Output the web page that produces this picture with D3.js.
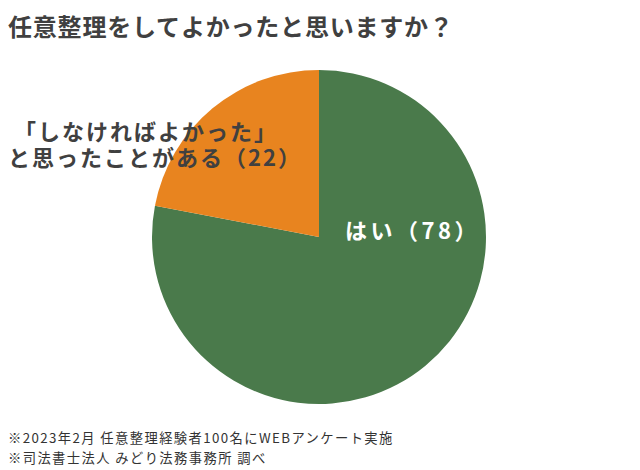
<!DOCTYPE html>
<html><head><meta charset="utf-8">
<script src="https://cdn.jsdelivr.net/npm/d3@7"></script>
<style>body{margin:0;background:#fff;}svg{display:block;font-family:"Noto Sans CJK JP","Noto Sans",sans-serif;}</style>
</head><body>
<script>
const categories = ["はい", "「しなければよかった」と思ったことがある"];
const values = [78, 22];
const colors = ["#4a7a4b", "#e8841f"];
const title = "任意整理をしてよかったと思いますか？";
const notes = ["※2023年2月 任意整理経験者100名にWEBアンケート実施", "※司法書士法人 みどり法務事務所 調べ"];

const W = 640, H = 470;
const svg = d3.select("body").append("svg").attr("width", W).attr("height", H);
const cx = 319, cy = 237, r = 167;

const pie = d3.pie().sort(null).value(d => d)(values);
const arc = d3.arc().innerRadius(0).outerRadius(r);
const g = svg.append("g").attr("transform", `translate(${cx},${cy})`);
g.selectAll("path").data(pie).join("path")
  .attr("d", arc).attr("fill", (d, i) => colors[i]);

svg.append("text").attr("x", 8).attr("y", 36).attr("font-size", 24).attr("font-weight", "bold")
  .attr("letter-spacing", 0.8).attr("fill", "#404040").text(title);

svg.append("text").attr("x", 345).attr("y", 239).attr("font-size", 22).attr("font-weight", "bold")
  .attr("letter-spacing", 3.5).attr("fill", "#fff").text(`${categories[0]}（${values[0]}）`);

const lt = svg.append("text").attr("font-size", 22).attr("font-weight", "bold")
  .attr("letter-spacing", 2).attr("fill", "#404040");
lt.append("tspan").attr("x", 14).attr("y", 140).text("「しなければよかった」");
lt.append("tspan").attr("x", 8).attr("y", 165.5).text(`と思ったことがある（${values[1]}）`);

notes.forEach((t, i) => svg.append("text").attr("x", 8).attr("y", 443 + i * 19.5)
  .attr("font-size", 13.3).attr("letter-spacing", 1.4).attr("fill", "#333").text(t));
</script>
</body></html>
